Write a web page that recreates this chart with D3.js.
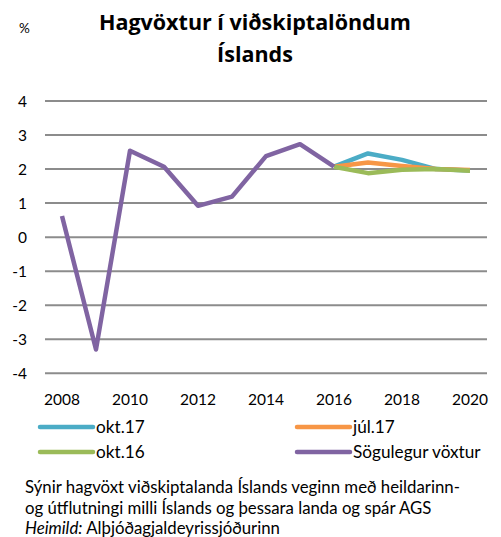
<!DOCTYPE html>
<html>
<head>
<meta charset="utf-8">
<script src="https://cdn.jsdelivr.net/npm/d3@7"></script>
<style>
  body { margin: 0; background: #fff; }
  svg text { font-family: Lato, "Open Sans", sans-serif; fill: #000; }
  svg .title { font-family: "Open Sans", sans-serif; }
</style>
</head>
<body>
<div id="chart"></div>
<script>
var years = [2008, 2009, 2010, 2011, 2012, 2013, 2014, 2015, 2016, 2017, 2018, 2019, 2020];
var xTicks = [2008, 2010, 2012, 2014, 2016, 2018, 2020];
var yTicks = [4, 3, 2, 1, 0, -1, -2, -3, -4];

var historical = [0.62, -3.3, 2.54, 2.07, 0.92, 1.19, 2.38, 2.73, 2.07, null, null, null, null];
var okt17 = [null, null, null, null, null, null, null, null, 2.07, 2.46, 2.27, 2.0, 1.96];
var jul17 = [null, null, null, null, null, null, null, null, 2.07, 2.19, 2.09, 2.0, 1.97];
var okt16 = [null, null, null, null, null, null, null, null, 2.07, 1.88, 1.98, 2.0, 1.95];

var seriesNames = ["okt.17", "júl.17", "okt.16", "Sögulegur vöxtur"];
var seriesColors = ["#4BACC6", "#F79646", "#9BBB59", "#8064A2"];

var width = 501;
var height = 537;

var svg = d3.select("#chart")
  .append("svg")
  .attr("width", width)
  .attr("height", height);

var x = d3.scaleBand()
  .domain(years)
  .range([45, 487]);

var y = d3.scaleLinear()
  .domain([-4, 4])
  .range([373.3, 101]);

// gridlines
svg.selectAll(".grid")
  .data(yTicks)
  .enter().append("line")
  .attr("x1", 45)
  .attr("x2", 487)
  .attr("y1", function (d) { return y(d); })
  .attr("y2", function (d) { return y(d); })
  .attr("stroke", "#8c8c8c")
  .attr("stroke-width", 2);

// y axis
var yAxis = d3.axisLeft(y)
  .tickValues(yTicks)
  .tickFormat(function (d) { return String(d); })
  .tickSize(0)
  .tickPadding(0);
var gY = svg.append("g")
  .attr("transform", "translate(27,0)")
  .call(yAxis);
gY.select(".domain").remove();
gY.selectAll("text")
  .attr("font-size", 15.5)
  .attr("dy", "0.36em");

// x axis
var xAxis = d3.axisBottom(x).tickValues(xTicks).tickSize(0).tickPadding(0);
var gX = svg.append("g")
  .attr("transform", "translate(0,405)")
  .call(xAxis);
gX.select(".domain").remove();
gX.selectAll("text")
  .attr("font-size", 15.5)
  .attr("dy", "0");

// lines
var line = d3.line()
  .defined(function (d) { return d != null; })
  .x(function (d, i) { return x(years[i]) + x.bandwidth() / 2; })
  .y(function (d) { return y(d); });

var allSeries = [okt17, jul17, okt16, historical];

svg.selectAll(".series")
  .data(allSeries)
  .enter().append("path")
  .attr("class", "series")
  .attr("fill", "none")
  .attr("stroke", function (d, i) { return seriesColors[i]; })
  .attr("stroke-width", 4.5)
  .attr("stroke-linejoin", "round")
  .attr("d", line);

// title
svg.append("text")
  .attr("x", 19)
  .attr("y", 33)
  .attr("font-size", 13.5)
  .text("%");

var title = svg.append("text")
  .attr("class", "title")
  .attr("text-anchor", "middle")
  .attr("font-size", 21.5)
  .attr("font-weight", "bold");
title.append("tspan").attr("x", 255).attr("y", 30).text("Hagvöxtur í viðskiptalöndum");
title.append("tspan").attr("x", 255).attr("y", 62).text("Íslands");

// legend
var legendPos = [[40, 427], [297, 427], [40, 452], [297, 452]];
var legend = svg.selectAll(".legend")
  .data(seriesNames)
  .enter().append("g")
  .attr("class", "legend")
  .attr("transform", function (d, i) { return "translate(" + legendPos[i][0] + "," + legendPos[i][1] + ")"; });

legend.append("line")
  .attr("x1", 0)
  .attr("x2", 53)
  .attr("stroke", function (d, i) { return seriesColors[i]; })
  .attr("stroke-width", 4.5)
  .attr("stroke-linecap", "round");

legend.append("text")
  .attr("x", 56)
  .attr("dy", "0.36em")
  .attr("font-size", 17.2)
  .text(function (d) { return d; });

// footnote
var noteLines = [
  "Sýnir hagvöxt viðskiptalanda Íslands veginn með heildarinn-",
  "og útflutningi milli Íslands og þessara landa og spár AGS"
];
svg.selectAll(".note")
  .data(noteLines)
  .enter().append("text")
  .attr("class", "note")
  .attr("x", 25)
  .attr("y", function (d, i) { return 493 + i * 20.5; })
  .attr("font-size", 16.8)
  .text(function (d) { return d; });

var src = svg.append("text")
  .attr("x", 25)
  .attr("y", 533.5)
  .attr("font-size", 16.8);
src.append("tspan").attr("font-style", "italic").text("Heimild:");
src.append("tspan").text(" Alþjóðagjaldeyrissjóðurinn");
</script>
</body>
</html>
